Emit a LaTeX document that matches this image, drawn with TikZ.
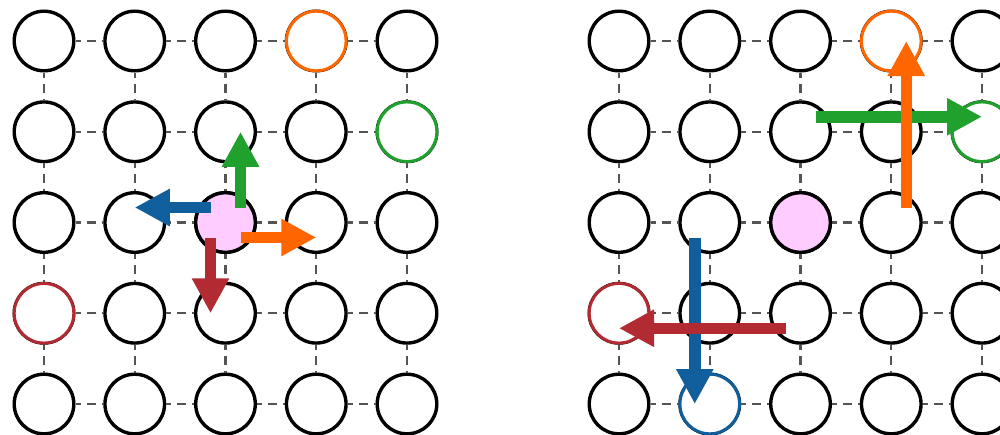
\documentclass[tikz,border=0pt]{standalone}
\usetikzlibrary{arrows.meta,calc}
\definecolor{cOrange}{HTML}{FF6600}
\definecolor{cGreen}{HTML}{20A02C}
\definecolor{cBlue}{HTML}{105F9C}
\definecolor{cRed}{HTML}{B22A32}
\definecolor{cPink}{HTML}{FFCCFF}
\definecolor{cGray}{HTML}{555555}
\begin{document}
\begin{tikzpicture}[x=1pt,y=-1pt,
  cell/.style={circle,draw=black,fill=white,line width=3.4pt,minimum size=59.6pt,inner sep=0pt},
  ring/.style={cell,line width=3pt},
  link/.style={draw=cGray,line width=2.2pt,dash pattern=on 9pt off 6pt,dash phase=4pt},
  mover/.style={line width=11.5pt,-{Triangle[length=35pt,width=35pt]}}]
\useasboundingbox (0,0) rectangle (1000,434);
\clip (0,0) rectangle (1000,434);
% nodes
\foreach \g/\x in {L/44,R/619}{
  \foreach \r in {0,...,4}{
    \foreach \c in {0,...,4}{
      \node[cell] (\g-\r-\c) at ({\x+90.75*\c},{41+90.75*\r}) {};
    }
  }
}
% dashed links
\foreach \g in {L,R}{
  \foreach \r in {0,...,4}{
    \foreach \c [evaluate=\c as \n using int(\c+1)] in {0,...,3}{
      \draw[link] (\g-\r-\c) -- (\g-\r-\n);
      \draw[link] (\g-\c-\r) -- (\g-\n-\r);
    }
  }
}
% coloured circles
\foreach \g in {L,R}{
  \node[ring,draw=cOrange] at (\g-0-3) {};
  \node[ring,draw=cGreen] at (\g-1-4) {};
  \node[ring,draw=cRed] at (\g-3-0) {};
  \node[cell,fill=cPink] at (\g-2-2) {};
}
\node[ring,draw=cBlue] at (R-4-1) {};
% left arrows
\draw[mover,cGreen] ($(L-2-2.center)+(15,-15)$) -- ($(L-1-2.center)+(15,0)$);
\draw[mover,cBlue] ($(L-2-2.center)+(-15,-15)$) -- ($(L-2-1.center)+(0,-15)$);
\draw[mover,cOrange] ($(L-2-2.center)+(15,15)$) -- ($(L-2-3.center)+(0,15)$);
\draw[mover,cRed] ($(L-2-2.center)+(-15,15)$) -- ($(L-3-2.center)+(-15,0)$);
% right arrows
\draw[mover,cGreen] ($(R-1-2.center)+(15,-15)$) -- ($(R-1-4.center)+(0,-15)$);
\draw[mover,cOrange] ($(R-2-3.center)+(15,-15)$) -- ($(R-0-3.center)+(15,0)$);
\draw[mover,cBlue] ($(R-2-1.center)+(-15,15)$) -- ($(R-4-1.center)+(-15,0)$);
\draw[mover,cRed] ($(R-3-2.center)+(-15,15)$) -- ($(R-3-0.center)+(0,15)$);
\end{tikzpicture}
\end{document}
